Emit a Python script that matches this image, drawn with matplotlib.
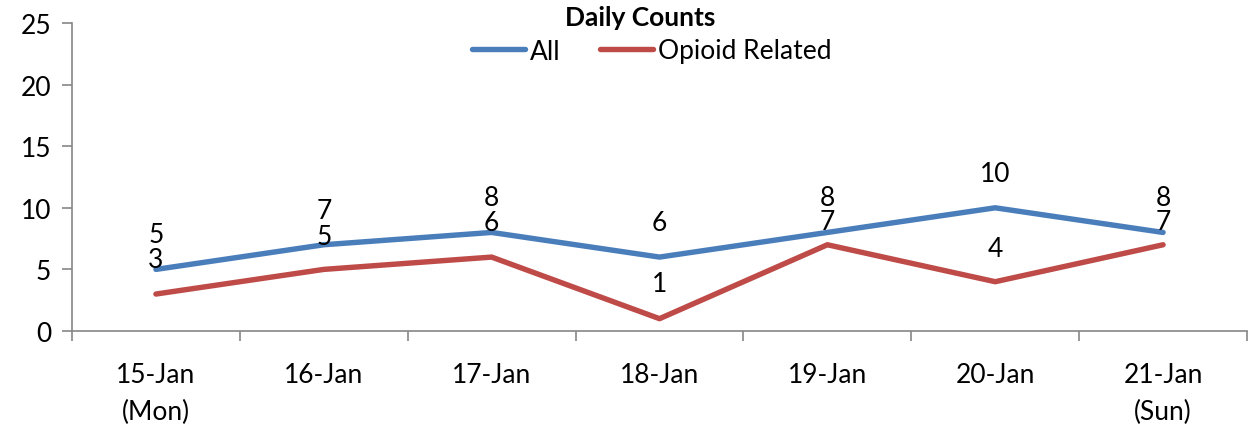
import matplotlib
matplotlib.use("Agg")
import matplotlib.pyplot as plt
import numpy as np

categories = ["15-Jan\n(Mon)", "16-Jan", "17-Jan", "18-Jan", "19-Jan", "20-Jan", "21-Jan\n(Sun)"]
all_counts = [5, 7, 8, 6, 8, 10, 8]
opioid_counts = [3, 5, 6, 1, 7, 4, 7]
yticks = [0, 5, 10, 15, 20, 25]

# label offsets above points (points); some nudged to avoid collisions
all_label_offsets = [25, 25, 25, 25, 25, 25, 25]
opioid_label_offsets = [25, 24, 25, 25, 17, 24, 17]

plt.rcParams['font.family'] = ['Lato', 'DejaVu Sans']
FS = 19

fig = plt.figure(figsize=(12.51, 4.27), dpi=100)
ax = fig.add_axes([72/1251, 1 - 332/427, (1247-72)/1251, (332-24)/427])

x = np.arange(len(categories))
blue = "#4A7EBB"
red = "#BE4B48"
ax.plot(x, all_counts, color=blue, lw=3.9, label="All", solid_capstyle="round")
ax.plot(x, opioid_counts, color=red, lw=3.9, label="Opioid Related", solid_capstyle="round")

for xi, v, off in zip(x, all_counts, all_label_offsets):
    ax.annotate(str(v), (xi, v), xytext=(0, off), textcoords="offset points",
                ha="center", va="center", fontsize=FS)
for xi, v, off in zip(x, opioid_counts, opioid_label_offsets):
    ax.annotate(str(v), (xi, v), xytext=(0, off), textcoords="offset points",
                ha="center", va="center", fontsize=FS)

ax.set_xlim(-0.5, len(categories) - 0.5)
ax.set_ylim(0, 25)
ax.set_yticks(yticks)
ax.set_xticks(x)
ax.set_xticklabels(categories, fontsize=FS, linespacing=1.6)
ax.set_xticks(np.arange(-0.5, len(categories), 1), minor=True)
ax.tick_params(axis="x", which="major", length=0, pad=22)
ax.tick_params(axis="x", which="minor", length=7, color="#868686", width=1.2)
ax.tick_params(axis="y", length=7, color="#868686", width=1.2, labelsize=FS, pad=8)

for s in ["top", "right"]:
    ax.spines[s].set_visible(False)
for s in ["left", "bottom"]:
    ax.spines[s].set_color("#868686")
    ax.spines[s].set_linewidth(1.2)

fig.text(640/1251, 1 - 18/427, "Daily Counts", ha="center", va="center", fontsize=FS, fontweight="bold")
leg = ax.legend(loc="center", bbox_to_anchor=(652/1251, 1 - 52/427), bbox_transform=fig.transFigure,
                ncol=2, frameon=False, fontsize=FS, handlelength=2.0, handletextpad=0.2,
                columnspacing=1.5, borderpad=0)

fig.savefig("out.png", dpi=100)
